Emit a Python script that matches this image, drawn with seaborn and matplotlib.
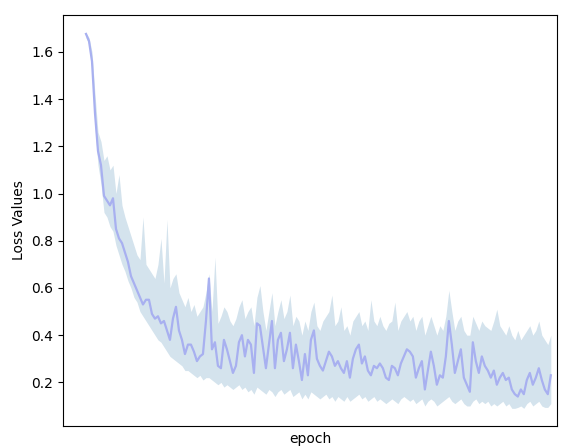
import numpy as np
import pandas as pd
import matplotlib
matplotlib.use("Agg")
import matplotlib.pyplot as plt
import seaborn as sns

# loss curve (mean line, lower / upper band)
loss_mean = [
    1.676, 1.646, 1.56, 1.34, 1.18, 1.12, 0.99, 0.97, 0.95, 0.98,
    0.85, 0.81, 0.79, 0.75, 0.71, 0.65, 0.62, 0.59, 0.56, 0.53,
    0.55, 0.55, 0.49, 0.47, 0.48, 0.45, 0.46, 0.42, 0.38, 0.47,
    0.52, 0.42, 0.38, 0.32, 0.36, 0.36, 0.33, 0.29, 0.31, 0.32,
    0.46, 0.64, 0.34, 0.37, 0.27, 0.26, 0.38, 0.34, 0.29, 0.24,
    0.27, 0.37, 0.40, 0.31, 0.38, 0.36, 0.24, 0.45, 0.44, 0.35,
    0.26, 0.36, 0.46, 0.26, 0.38, 0.41, 0.29, 0.34, 0.41, 0.26,
    0.36, 0.29, 0.21, 0.32, 0.23, 0.38, 0.42, 0.30, 0.27, 0.25,
    0.29, 0.33, 0.31, 0.27, 0.29, 0.26, 0.24, 0.29, 0.22, 0.30,
    0.34, 0.36, 0.28, 0.31, 0.25, 0.23, 0.27, 0.26, 0.28, 0.26,
    0.22, 0.21, 0.27, 0.26, 0.23, 0.28, 0.31, 0.34, 0.33, 0.31,
    0.22, 0.26, 0.29, 0.17, 0.25, 0.33, 0.27, 0.19, 0.23, 0.22,
    0.31, 0.46, 0.36, 0.24, 0.29, 0.34, 0.22, 0.19, 0.16, 0.37,
    0.29, 0.24, 0.31, 0.27, 0.25, 0.22, 0.25, 0.19, 0.22, 0.24,
    0.21, 0.22, 0.17, 0.15, 0.14, 0.17, 0.15, 0.21, 0.24, 0.19,
    0.22, 0.26, 0.21, 0.17, 0.15, 0.23,
]
loss_upper = [
    1.68, 1.66, 1.60, 1.42, 1.26, 1.22, 1.14, 1.16, 1.10, 1.12,
    1.00, 1.08, 0.95, 0.90, 0.86, 0.82, 0.78, 0.74, 0.72, 0.90,
    0.70, 0.68, 0.66, 0.64, 0.70, 0.81, 0.62, 0.89, 0.60, 0.64,
    0.66, 0.58, 0.55, 0.52, 0.56, 0.50, 0.53, 0.48, 0.50, 0.52,
    0.58, 0.66, 0.50, 0.73, 0.45, 0.48, 0.52, 0.50, 0.46, 0.44,
    0.47, 0.52, 0.55, 0.47, 0.50, 0.52, 0.44, 0.56, 0.61, 0.50,
    0.42, 0.50, 0.58, 0.44, 0.50, 0.55, 0.47, 0.50, 0.57, 0.44,
    0.48, 0.46, 0.40, 0.46, 0.42, 0.50, 0.54, 0.44, 0.42, 0.46,
    0.48, 0.50, 0.57, 0.44, 0.46, 0.52, 0.42, 0.44, 0.40, 0.46,
    0.48, 0.50, 0.44, 0.46, 0.42, 0.55, 0.46, 0.44, 0.48, 0.44,
    0.42, 0.45, 0.46, 0.54, 0.42, 0.46, 0.48, 0.50, 0.46, 0.48,
    0.42, 0.46, 0.48, 0.40, 0.44, 0.48, 0.44, 0.40, 0.44, 0.42,
    0.48, 0.59, 0.50, 0.42, 0.46, 0.48, 0.42, 0.40, 0.40, 0.48,
    0.45, 0.42, 0.46, 0.44, 0.43, 0.42, 0.46, 0.51, 0.44, 0.42,
    0.40, 0.44, 0.40, 0.38, 0.42, 0.38, 0.40, 0.42, 0.44, 0.40,
    0.42, 0.46, 0.40, 0.38, 0.36, 0.40,
]
loss_lower = [
    1.66, 1.63, 1.52, 1.28, 1.12, 1.04, 0.92, 0.90, 0.86, 0.84,
    0.78, 0.74, 0.70, 0.67, 0.63, 0.60, 0.56, 0.54, 0.50, 0.48,
    0.46, 0.44, 0.42, 0.40, 0.38, 0.37, 0.35, 0.33, 0.31, 0.30,
    0.29, 0.28, 0.27, 0.25, 0.25, 0.24, 0.23, 0.22, 0.23, 0.21,
    0.22, 0.22, 0.21, 0.20, 0.19, 0.20, 0.18, 0.19, 0.18, 0.17,
    0.18, 0.19, 0.17, 0.18, 0.16, 0.17, 0.15, 0.18, 0.17, 0.16,
    0.15, 0.17, 0.16, 0.14, 0.16, 0.17, 0.15, 0.16, 0.17, 0.14,
    0.15, 0.16, 0.13, 0.15, 0.13, 0.16, 0.15, 0.14, 0.13, 0.14,
    0.15, 0.13, 0.14, 0.12, 0.14, 0.13, 0.12, 0.14, 0.12, 0.13,
    0.14, 0.15, 0.13, 0.14, 0.12, 0.13, 0.14, 0.12, 0.13, 0.12,
    0.11, 0.12, 0.13, 0.12, 0.11, 0.13, 0.14, 0.13, 0.12, 0.13,
    0.11, 0.12, 0.13, 0.10, 0.12, 0.13, 0.12, 0.10, 0.11, 0.12,
    0.13, 0.14, 0.12, 0.11, 0.12, 0.13, 0.11, 0.10, 0.10, 0.12,
    0.13, 0.11, 0.12, 0.11, 0.12, 0.10, 0.11, 0.10, 0.11, 0.12,
    0.10, 0.11, 0.09, 0.09, 0.094, 0.10, 0.09, 0.11, 0.12, 0.10,
    0.11, 0.12, 0.10, 0.094, 0.094, 0.11,
]

df = pd.DataFrame({
    "epoch": np.arange(len(loss_mean)),
    "loss": loss_mean,
    "lower": loss_lower,
    "upper": loss_upper,
})

fig = plt.figure(figsize=(5.65, 4.48), dpi=100)
ax = fig.add_axes([0.1115, 0.049, 0.874, 0.9174])

ax.fill_between(df["epoch"], df["lower"], df["upper"], color="#d4e3ed", linewidth=0)
sns.lineplot(data=df, x="epoch", y="loss", color="#a8b0f0", linewidth=1.6, ax=ax)

ax.set_xlim(-7.67, 157)
ax.set_ylim(0.015, 1.756)
ax.set_yticks([0.2, 0.4, 0.6, 0.8, 1.0, 1.2, 1.4, 1.6])
ax.set_xticks([])
ax.set_xlabel("epoch", fontsize=10)
ax.set_ylabel("Loss Values", fontsize=10)

fig.savefig("out.png", dpi=100)
